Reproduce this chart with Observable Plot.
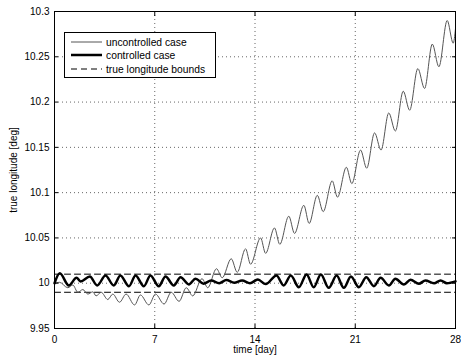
<!DOCTYPE html>
<html>
<head>
<meta charset="utf-8">
<script src="https://cdn.jsdelivr.net/npm/d3@7"></script>
<script src="https://cdn.jsdelivr.net/npm/@observablehq/plot@0.6"></script>
<style>
  html, body { margin: 0; padding: 0; background: #fff; }
  #wrap { position: relative; width: 461px; height: 358px; font-family: "Liberation Sans", Arial, Helvetica, sans-serif; }
  #legend { position: absolute; left: 64px; top: 32px; width: 152px; height: 46px; border: 1px solid #000; background: #fff; box-sizing: border-box; font-size: 10.3px; }
  .row { position: absolute; left: 0; height: 12px; display: flex; align-items: center; }
  .row svg { margin-left: 6px; margin-right: 4px; }
</style>
</head>
<body>
<div id="wrap"></div>
<script>
// ---- data ----
const xTicks = [0, 7, 14, 21, 28];
const yTicks = [9.95, 10, 10.05, 10.1, 10.15, 10.2, 10.25, 10.3];
const yTickLabels = ["9.95", "10", "10.05", "10.1", "10.15", "10.2", "10.25", "10.3"];

const uncDay = [0, 0.35, 0.93, 1.28, 1.63, 1.98, 2.33, 2.68, 2.9, 3.26, 3.72, 4.07, 4.54, 5.0, 5.59, 6.0, 6.59, 7.05, 7.65, 8.15, 8.7, 9.2, 9.65,
  10.3, 10.7, 11.31, 11.71, 12.34, 12.76, 13.34, 13.69, 14.39, 14.74, 15.36, 15.73, 16.36, 16.76, 17.41, 17.78, 18.35, 18.76,
  19.39, 19.76, 20.38, 20.76, 21.37, 21.8, 22.35, 22.8, 23.34, 23.8, 24.35, 24.8, 25.37, 25.84, 26.38, 26.84, 27.42, 27.84, 28];
const uncVal = [10.000, 10.001, 9.995, 9.998, 9.990, 9.993, 9.988, 9.9905, 9.986, 9.990, 9.982, 9.988, 9.979, 9.988, 9.976, 9.987, 9.976, 9.988, 9.977, 9.990, 9.980, 9.995, 9.986,
  10.005, 9.995, 10.016, 10.006, 10.027, 10.012, 10.038, 10.021, 10.050, 10.033, 10.061, 10.043, 10.074, 10.055, 10.086, 10.066, 10.097, 10.079,
  10.113, 10.095, 10.128, 10.110, 10.147, 10.127, 10.166, 10.147, 10.188, 10.168, 10.212, 10.191, 10.237, 10.215, 10.264, 10.239, 10.290, 10.265, 10.281];

const conDay = [0, 0.37, 1.0, 1.54, 1.82, 2.47, 2.98, 3.56, 4.14, 4.6, 5.2, 5.66, 6.24, 6.7, 7.28, 7.75, 8.33, 8.8, 9.38, 9.85,
  10.4, 10.94, 11.5, 12.0, 12.55, 13.1, 13.65, 14.2, 14.75, 15.5, 16.0, 16.5, 17.06, 17.6, 18.1, 18.6, 19.15, 19.7, 20.2, 20.7,
  21.25, 21.77, 22.3, 22.77, 23.35, 23.8, 24.4, 24.86, 25.44, 25.9, 26.5, 26.96, 27.4, 28];
const conVal = [10.000, 10.011, 9.9975, 10.006, 10.002, 10.0074, 9.9975, 10.0085, 9.9975, 10.0085, 9.9967, 10.0085, 9.9967, 10.0085, 9.9967, 10.0074, 9.9975, 10.0066, 9.9986, 10.005,
  9.9995, 10.003, 10.000, 10.0035, 10.0005, 10.003, 10.000, 10.004, 9.999, 10.0085, 9.9975, 10.0085, 9.9956, 10.0096, 9.9956, 10.0096, 9.9949, 10.0085, 9.9949, 10.0074,
  9.9956, 10.0066, 9.9967, 10.006, 9.9975, 10.005, 9.9986, 10.0038, 9.9994, 10.003, 10.000, 10.003, 10.000, 10.002];

const boundDay = [0, 28];
const upperBound = 10.01;
const lowerBound = 9.99;

const legendLabels = ["uncontrolled case", "controlled case", "true longitude bounds"];

// ---- tables ----
const unc = uncDay.map((d, i) => ({day: d, v: uncVal[i]}));
const con = conDay.map((d, i) => ({day: d, v: conVal[i]}));
const up = boundDay.map(d => ({day: d, v: upperBound}));
const lo = boundDay.map(d => ({day: d, v: lowerBound}));

const fmtY = v => yTickLabels[yTicks.findIndex(t => Math.abs(t - v) < 1e-9)];

const chart = Plot.plot({
  width: 461,
  height: 358,
  marginLeft: 54,
  marginRight: 6,
  marginTop: 11,
  marginBottom: 30,
  style: {fontFamily: '"Liberation Sans", Arial, Helvetica, sans-serif', fontSize: "10px", color: "#000", background: "#fff"},
  x: {domain: [0, 28], ticks: xTicks},
  y: {domain: [9.95, 10.3], ticks: yTicks},
  marks: [
    Plot.gridX([7, 14, 21], {stroke: "#000", strokeOpacity: 0.6, strokeDasharray: "1,3"}),
    Plot.gridY(yTicks.slice(1, -1), {stroke: "#000", strokeOpacity: 0.6, strokeDasharray: "1,3"}),
    Plot.line(up, {x: "day", y: "v", stroke: "#000", strokeWidth: 1, strokeDasharray: "6,4"}),
    Plot.line(lo, {x: "day", y: "v", stroke: "#000", strokeWidth: 1, strokeDasharray: "6,4"}),
    Plot.line(unc, {x: "day", y: "v", stroke: "#555", strokeWidth: 1, curve: "monotone-x"}),
    Plot.line(con, {x: "day", y: "v", stroke: "#000", strokeWidth: 2.5, curve: "monotone-x"}),
    Plot.axisX({ticks: xTicks, tickSize: 0, tickPadding: 7, label: "time [day]", labelAnchor: "center", labelArrow: "none", labelOffset: 24}),
    Plot.axisX({ticks: xTicks, tickSize: -4, text: null, label: null}),
    Plot.axisX({ticks: xTicks, anchor: "top", tickSize: -4, text: null, label: null}),
    Plot.axisY({ticks: yTicks, tickSize: 0, tickPadding: 5, tickFormat: fmtY, label: "true longitude [deg]", labelAnchor: "center", labelArrow: "none", labelOffset: 45}),
    Plot.axisY({ticks: yTicks, tickSize: -4, text: null, label: null}),
    Plot.axisY({ticks: yTicks, anchor: "right", tickSize: -4, text: null, label: null}),
    Plot.frame({stroke: "#000", strokeWidth: 1})
  ]
});

const wrap = document.getElementById("wrap");
wrap.appendChild(chart);

// legend overlay
const legend = document.createElement("div");
legend.id = "legend";
const samples = [
  '<line x1="0" y1="5" x2="31" y2="5" stroke="#555" stroke-width="1"/>',
  '<line x1="0" y1="5" x2="31" y2="5" stroke="#000" stroke-width="2.5"/>',
  '<line x1="0" y1="5" x2="31" y2="5" stroke="#000" stroke-width="1" stroke-dasharray="6,4"/>'
];
const tops = [3, 16, 30];
legendLabels.forEach((lab, i) => {
  const row = document.createElement("div");
  row.className = "row";
  row.style.top = tops[i] + "px";
  row.innerHTML = '<svg width="31" height="10">' + samples[i] + '</svg><span>' + lab + '</span>';
  legend.appendChild(row);
});
wrap.appendChild(legend);
</script>
</body>
</html>
